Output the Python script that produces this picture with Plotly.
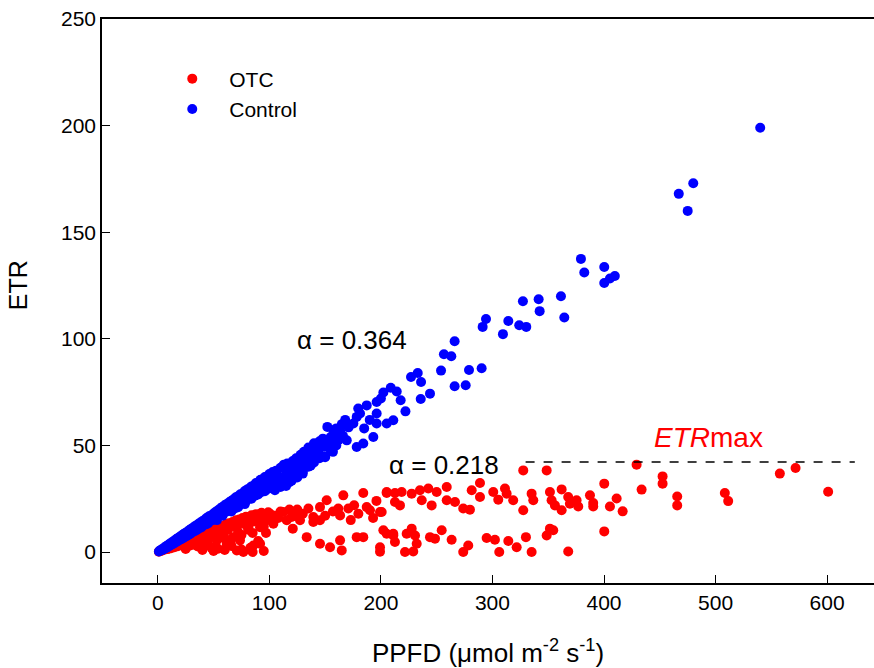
import plotly.graph_objects as go

# ---------------- data ----------------
otc_x = [1, 3, 4, 6, 7, 9, 10, 12, 13, 15, 16, 18, 19, 21, 22, 24, 25, 27, 28, 30,
         31, 33, 34, 36, 37, 39, 40, 42, 43, 45, 46, 48, 49, 51, 52, 54, 55, 57, 58, 60,
         61, 63, 64, 66, 67, 69, 70, 72, 73, 75, 76, 78, 79, 81, 83, 84, 86, 88, 90, 93,
         95, 97, 99,
         46.9, 58.8, 67.7, 73.7, 70.8, 76.7, 85.7, 91.7, 61.8, 52.9, 37.9, 29, 20.1, 37.9,
         46.9, 55.8, 61.8, 79.7, 70.8, 81.2, 91.7, 91.7, 100.6, 103.6,
         105, 95, 85, 75, 65, 55, 45, 35, 25, 60, 80, 90, 100, 110, 120, 125, 60, 50, 40, 95, 85,
         112.5, 124.6, 115.6, 127.5, 139.4, 145.4, 135, 145.4, 139.4, 161.8, 170.8, 163.4,
         179.8, 190.2, 199.2, 187.3, 151.4, 166.3, 184.2, 133.5, 145.4, 154.4, 163.4, 164.9,
         178.3, 184.2, 199.2, 199.2, 108, 118, 121, 130, 150, 157, 173, 176, 193, 196,
         205.2, 218.6, 227.6, 235, 242.5, 250, 259, 236.6, 245.5, 259, 266.4, 273.8, 279.8,
         212.6, 217.1, 200.7, 205.2, 212.6, 288.8, 281.4, 288.8, 300.7, 311.2, 312.7, 305.2,
         318.6, 327.6,
         202.2, 211.1, 212.6, 223.1, 227.6, 230.6, 232.1, 221.6, 229, 244, 248.5, 254.5,
         263.4, 273.8, 278.3, 294.8, 302.2, 306.1, 314.2, 321.7, 330, 335.1, 348.6, 351.5,
         354.5, 367.9, 400.2, 205.2, 211.1,
         327.6, 348.6, 429.2, 400.2, 433.7, 452.5, 452.5, 465.6, 465.6, 335.1, 336.6, 351.5,
         362, 353, 356, 362, 367.9, 369.4, 375.4, 376.9, 387.4, 390.3, 390.3, 405.3, 411.3,
         416.7, 508.3, 511.3, 557.6, 571.7, 600.9]
otc_y = [0.2, 0.5, 0.9, 1.1, 1.5, 1.4, 2.0, 1.8, 2.6, 2.3, 3.1, 2.7, 3.8, 3.2, 4.5, 2.9, 5.0, 4.1, 5.6, 3.5,
         6.3, 5.2, 6.9, 2.6, 7.5, 6.1, 8.2, 4.4, 8.8, 7.0, 9.6, 2.1, 10.1, 8.4, 10.9, 1.6, 11.4, 9.7, 12.2, 6.6,
         12.8, 10.5, 13.5, 2.9, 14.1, 12.0, 14.9, 9.4, 15.3, 1.2, 16.0, 13.1, 16.6, 10.5, 2.0, 17.3, 14.4, 17.8, 5.2, 18.4,
         15.6, 9.0, 18.7,
         7, 8.6, 7, 5.5, 0.8, 0, 3.1, 3.9, 3.9, 5.5, 5.5, 3.1, 3.9, 8.6,
         11.7, 11.7, 13.3, 14.9, 11.7, 11.7, 11.7, 16.4, 18, 13.3,
         17, 12, 9, 8, 5, 6.5, 4, 3, 1.5, 10, 13, 14, 15, 19, 16.5, 20, 1, 0.5, 1, 0.5, 0,
         18.8, 17.2, 14.9, 14.9, 14.1, 14.9, 20.4, 21.1, 16.4, 20.4, 20.4, 17.2,
         18, 19.6, 18.8, 21.1, 24.3, 26.6, 27.7, 7, 3.9, 2.3, 5.5, 0.8,
         7, 7, 2.3, 0.2, 16, 20, 11, 18, 17, 19, 15, 22, 16, 24,
         28.2, 28.2, 27.4, 29, 29.8, 28.2, 30.5, 24.3, 21.9, 24.3, 23.5, 20.4, 19.9,
         23.5, 21.9, 18.8, 27.7, 27.7, 32.4, 29, 25.8, 28.2, 29.8, 27.4, 24.6,
         24.3, 19.6,
         10.2, 7.8, 4.7, 8.6, 11, 7.8, 3.9, 0, 0.3, 7, 6.3, 10.2,
         5.8, 0, 3.1, 6.6, 5.8, 0, 5.2, 2.3, 7, 0, 7.8, 11,
         10.2, 0.3, 9.7, 8.6, 8.6,
         38.3, 38.3, 41, 32.1, 29.3, 35.5, 32.1, 26.1, 21.9, 27.4, 24.3, 28.2,
         29.4, 24.3, 21.9, 19.6, 25.8, 22.7, 24.3, 21.4, 26.6, 23, 21.4, 21.4, 25.1,
         19.1, 27.7, 23.9, 36.8, 39.4, 28.3]

control_x = [1, 2, 2.5, 3.5, 4, 5, 5.5, 6.5, 7, 8, 8.5, 9.5, 10, 11, 11.5, 12.5, 13, 14, 14.5, 15.5,
             16, 17, 17.5, 18.5, 19, 20, 21, 22, 22.5, 23.5, 24, 25, 26, 27, 27.5, 28.5, 29, 30, 31, 32,
             33, 34, 35, 36, 37, 38, 39, 40, 41, 42, 43, 44, 45, 46, 47, 48, 49, 50, 51, 52,
             53, 54, 55, 56, 57, 58, 59, 60, 61, 62, 63, 64, 65, 66, 67, 68, 69, 70, 71, 72,
             73, 74, 75, 76, 77, 78, 79, 80, 81, 82, 83, 84, 85, 86, 87, 88, 89, 90, 91, 92,
             93, 94, 95, 96, 97, 98, 99, 100,
             15, 25, 35, 45, 55, 65, 75, 85, 95, 42, 62, 82, 92,
             66, 72, 78, 84, 90, 96, 58, 53, 63,
             105, 110, 115, 120, 125, 130, 135, 140, 145, 150, 155, 160, 104, 109, 114, 117, 123,
             129, 133, 139, 144, 147, 151, 156, 161,
             102, 103, 105, 106, 108, 110, 111, 113, 115, 116, 118, 119, 121, 122, 124, 125, 127, 128,
             130, 131, 132, 134, 135, 137, 138, 140, 141, 143, 145, 146, 148, 149, 150, 152, 153, 155,
             157, 157.4, 160, 162, 163.4, 165, 166, 168, 169.4, 171, 175.3, 178.3, 178.3, 179.7, 181.3,
             184.2, 185, 187.3, 190, 193.2, 196.2, 196.2, 196.2, 200, 202.2, 205.2, 208.8, 211.1, 214.2,
             217.7, 222, 227, 233, 235.7, 236, 244, 253.9, 256.5, 263.1, 266.1, 266.1, 276, 279, 290.3,
             291.2, 294.2, 309.4, 314.2, 324, 330.3, 327.3, 341.4, 342.3, 361.4, 364.4, 379.3, 382.3,
             400.2, 400.2, 405.3, 409.7, 467, 480, 475, 540]
control_y = [0.3, 0.6, 0.9, 1.2, 1.0, 1.8, 1.4, 2.3, 1.9, 2.9, 2.2, 3.4, 2.8, 4.0, 3.2, 4.5, 3.7, 5.1, 4.0, 5.5,
             4.6, 6.2, 5.0, 6.7, 5.6, 7.3, 6.0, 8.0, 6.5, 8.6, 7.0, 9.1, 7.6, 9.8, 8.2, 10.3, 8.5, 10.9, 9.3, 11.6,
             9.8, 12.4, 10.4, 13.0, 11.2, 13.8, 11.5, 14.5, 12.6, 15.2, 13.0, 16.1, 13.4, 16.8, 14.6, 17.2, 15.0, 18.1, 15.6, 18.9,
             16.2, 19.6, 17.0, 20.4, 17.3, 21.2, 18.5, 22.0, 18.8, 22.6, 19.7, 23.4, 20.3, 24.1, 21.0, 24.8, 20.5, 25.7, 22.4, 26.2,
             22.0, 27.1, 23.6, 27.5, 24.8, 28.6, 23.9, 29.3, 25.7, 29.8, 25.1, 30.8, 27.2, 31.2, 26.4, 32.4, 28.3, 32.6, 29.5, 33.9,
             28.2, 34.1, 30.6, 35.2, 31.0, 35.5, 29.7, 36.6,
             4.9, 8.3, 11.8, 15.2, 18.5, 22.4, 25.9, 29.1, 32.7, 13.8, 20.9, 28.0, 31.4,
             19.0, 21.0, 22.5, 25.0, 27.0, 28.5, 17.0, 15.0, 19.5,
             29.0, 30.5, 31.0, 33.5, 35.0, 38.0, 40.0, 42.0, 44.0, 45.0, 48.0, 50.0, 33.0, 35.0, 34.0, 38.0, 40.0,
             42.0, 43.0, 45.5, 47.5, 50.0, 52.0, 51.0, 55.0,
             34.0, 37.5, 31.5, 38.2, 35.6, 39.5, 33.2, 41.0, 36.5, 41.5, 32.8, 39.8, 42.7, 36.0, 44.0, 38.5, 40.8, 45.6,
             36.8, 47.0, 42.0, 44.8, 49.0, 40.5, 46.5, 51.0, 43.5, 48.6, 52.0, 45.0, 53.2, 49.5, 44.5, 58.7, 51.5, 54.0,
             47.0, 57.1, 58.0, 52.5, 57.1, 60.0, 54.5, 62.0, 52.4, 58.5, 60.3, 49.3, 63.4, 67.3, 65.0,
             50.9, 58.0, 68.8, 62.0, 54.0, 70.4, 65.0, 60.3, 72.0, 74.8, 60.3, 77.1, 61.8, 75.3,
             71.2, 66.0, 82.1, 84.0, 71.8, 79.8, 74.3, 85.1, 92.8, 91.8, 98.9, 77.8, 78.2, 85.4, 86.2,
             105.6, 109.3, 102.2, 108.4, 106.4, 105.6, 117.6, 118.6, 113.0, 120.0, 110.0, 137.5, 131.1,
             133.7, 126.2, 128.3, 129.5, 168, 173, 160, 199]

x_ticks = [0, 100, 200, 300, 400, 500, 600]
y_ticks = [0, 50, 100, 150, 200, 250]

etr_max = 42.2
etr_max_x = [329.7, 624.8]

FONT = "Liberation Sans, Arial, sans-serif"

fig = go.Figure()
fig.add_trace(go.Scatter(x=otc_x, y=otc_y, mode="markers", name="OTC",
                         marker=dict(color="#ff0000", size=10, line=dict(width=0))))
fig.add_trace(go.Scatter(x=control_x, y=control_y, mode="markers", name="Control",
                         marker=dict(color="#0000ff", size=10, line=dict(width=0))))

fig.add_shape(type="line", xref="x", yref="y", x0=etr_max_x[0], x1=etr_max_x[1],
              y0=etr_max, y1=etr_max, line=dict(color="black", width=1.5, dash="dash"))

fig.add_annotation(x=174, y=99.3, xref="x", yref="y", text="α = 0.364", showarrow=False,
                   font=dict(size=26, color="black", family=FONT))
fig.add_annotation(x=256.6, y=40.7, xref="x", yref="y", text="α = 0.218", showarrow=False,
                   font=dict(size=26, color="black", family=FONT))
fig.add_annotation(x=494, y=53.8, xref="x", yref="y", text="<i>ETR</i>max", showarrow=False,
                   font=dict(size=28, color="#ff0000", family=FONT))
# y-axis title
fig.add_annotation(x=-0.1088, y=0.528, xref="paper", yref="paper", text="ETR",
                   textangle=-90, showarrow=False, xanchor="center", yanchor="middle",
                   font=dict(size=25, color="black", family=FONT))

fig.update_layout(
    width=874, height=668,
    margin=dict(l=102, r=0, t=19, b=85),
    paper_bgcolor="white", plot_bgcolor="white",
    font=dict(family=FONT, size=21, color="black"),
    showlegend=True,
    legend=dict(x=0.069, y=0.93, xanchor="left", yanchor="top",
                bgcolor="rgba(0,0,0,0)", borderwidth=0,
                font=dict(size=21, family=FONT), itemwidth=64),
    xaxis=dict(range=[-50, 642], tickvals=x_ticks, ticks="inside", ticklen=8,
               tickwidth=1.2, tickcolor="black", showline=True, linecolor="black",
               linewidth=1.5, mirror=True, showgrid=False, zeroline=False,
               tickfont=dict(size=21),
               title=dict(text="PPFD (μmol m<sup>-2</sup> s<sup>-1</sup>)",
                          font=dict(size=26, family=FONT), standoff=32)),
    yaxis=dict(range=[-14.5, 250], tickvals=y_ticks, ticks="inside", ticklen=8,
               tickwidth=1.2, tickcolor="black", showline=True, linecolor="black",
               linewidth=1.5, showgrid=False, zeroline=False,
               tickfont=dict(size=21)),
)

fig.write_html("out.html")
